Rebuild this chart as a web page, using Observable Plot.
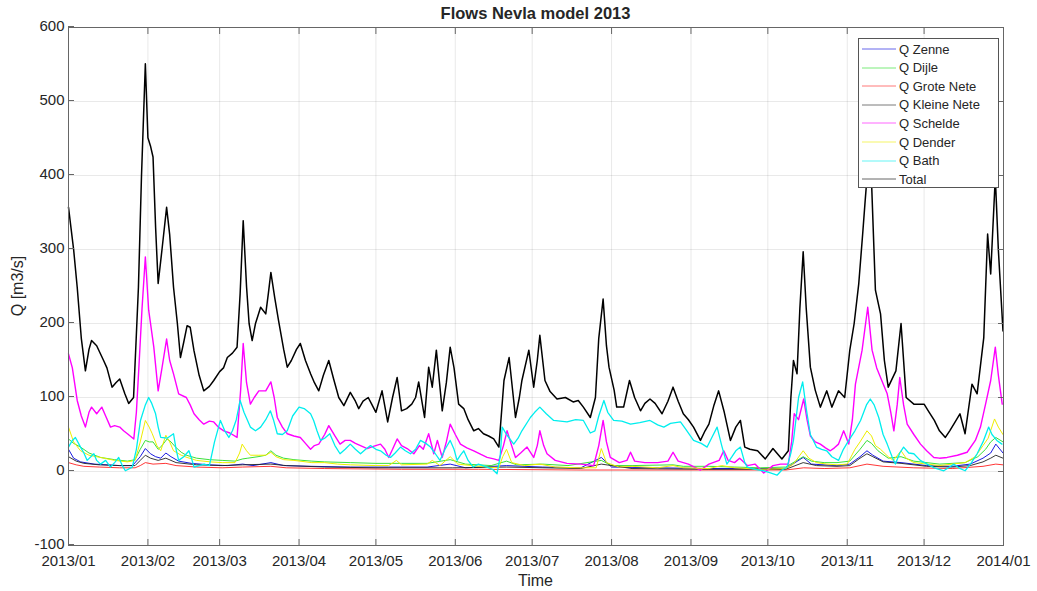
<!DOCTYPE html>
<html>
<head>
<meta charset="utf-8">
<script src="https://cdn.jsdelivr.net/npm/d3@7"></script>
<script src="https://cdn.jsdelivr.net/npm/@observablehq/plot@0.6"></script>
<style>
  html, body { margin: 0; padding: 0; background: #fff; }
  #wrap { position: relative; width: 1037px; height: 591px; font-family: "Liberation Sans", Arial, sans-serif; color: #262626; }
  #title { position: absolute; left: 68px; width: 935px; top: 4px; text-align: center; font-weight: bold; font-size: 16.5px; }
  #xlabel { position: absolute; left: 68px; width: 935px; top: 572px; text-align: center; font-size: 16px; }
  #ylabel { position: absolute; left: 18px; top: 286px; transform: translate(-50%, -50%) rotate(-90deg); font-size: 16px; white-space: nowrap; }
  #legend { position: absolute; left: 858px; top: 38px; width: 141px; height: 150px; background: #fff; border: 1px solid #555; box-sizing: border-box; font-size: 13px; }
  .li { position: absolute; left: 3px; height: 18px; display: flex; align-items: center; }
  .li svg { margin-right: 3px; }
</style>
</head>
<body>
<div id="wrap">
  <div id="chart"></div>
  <div id="title">Flows Nevla model 2013</div>
  <div id="xlabel">Time</div>
  <div id="ylabel">Q [m3/s]</div>
  <div id="legend"></div>
</div>
<script>
// ---- Tick labels ----
const xTickLabels = ["2013/01","2013/02","2013/03","2013/04","2013/05","2013/06","2013/07","2013/08","2013/09","2013/10","2013/11","2013/12","2014/01"];
const yTicks = [-100, 0, 100, 200, 300, 400, 500, 600];

// ---- Series names and colours ----
const seriesNames = ["Q Zenne","Q Dijle","Q Grote Nete","Q Kleine Nete","Q Schelde","Q Dender","Q Bath","Total"];
const seriesColors = ["#0000dd","#22dd22","#ff2020","#222222","#ff00ff","#eeee00","#00eeee","#000000"];
const seriesWidths = [0.9, 0.9, 0.9, 0.9, 1.4, 1.0, 1.3, 1.5];

// ---- Data: [day of 2013 (0 = Jan 1), Q in m3/s] ----
const qZenne = [[0,30],[2,18],[4.7,13],[10,10],[15,9],[20,8],[25,8],[28,20],[30,31],[32,24],[34,20],[36,18],[38,25],[40,20],[43,14],[48,11],[55,9],[62,8],[68,10],[72,8],[79,12],[84,8],[95,7],[110,6],[125,6],[140,6],[149,10],[155,5],[171,8],[185,6],[200,5],[208,19],[212,6],[230,5],[250,4],[270,4],[280,4],[286.8,19],[290,10],[300,8],[305,10],[309,20],[311.7,28],[314,22],[318,14],[325,12],[335,8],[345,7],[352,10],[357,18],[360,25],[362,37],[364.8,25]];

const qDijle = [[0,44],[2,38],[4.7,33],[8,25],[12.5,19],[18,16],[23,14],[26,16],[28,30],[30,42],[31.5,40],[33,40],[35,30],[36.5,35],[38.5,44],[40,40],[41.8,33],[44,26],[46,22],[50,18],[55,16],[60,15],[65,14],[68,17],[70,18],[74,20],[77,22],[79,28],[81,22],[84,18],[88,16],[95,14],[100,13],[110,12],[120,11],[130,11],[140,11],[149,16],[155,10],[165,8],[171,14],[175,9],[185,10],[195,8],[208,15],[212,8],[220,8],[236,9],[240,7],[250,7],[260,6],[270,5],[280,6],[286.8,20],[290,14],[295,12],[300,12],[305,14],[309,30],[311.7,42],[313.5,38],[316,28],[320,18],[325,20],[330,14],[340,10],[350,12],[355,20],[358,30],[360,40],[362,46],[364.8,40]];

const qGroteNete = [[0,12],[3,9],[6,7],[12,6],[20,5],[26,5],[28,8],[30,12],[33,10],[38,11],[42,8],[50,6],[60,5],[68,6],[79,7],[85,5],[100,4],[130,3],[160,3],[200,2],[250,2],[280,2],[287,5],[295,4],[305,5],[311.7,10],[318,7],[330,5],[345,4],[357,7],[362,10],[364.8,9]];

const qKleineNete = [[0,20],[3,14],[6,11],[12,9],[20,8],[26,8],[28,15],[30,22],[32,18],[35,15],[38,18],[42,12],[50,9],[60,8],[68,9],[79,10],[85,8],[100,6],[120,5],[150,5],[171,6],[200,4],[208,10],[220,4],[250,3],[280,3],[286.8,12],[292,8],[300,7],[305,8],[309,18],[311.7,24],[314,20],[318,13],[325,11],[335,7],[345,6],[352,8],[357,13],[360,18],[362,22],[364.8,18]];

const qSchelde = [[0,159],[1.5,140],[3.4,96],[5,75],[6.6,60],[8,80],[9,87],[11,78],[13,87],[14.5,75],[16.4,60],[18,62],[20,60],[21.5,55],[23,51],[25.5,44],[26.5,80],[27.4,136],[28.7,220],[30,290],[31.3,218],[33.3,168],[35,109],[36.5,140],[38.3,179],[39.5,150],[41,132],[43,105],[46,100],[47.5,90],[49,78],[51,70],[52.8,64],[55,68],[56.7,67],[58.5,60],[60.6,55],[63,52],[65.8,46],[67.2,110],[68.2,173],[69.5,120],[71,91],[72.5,100],[74.3,109],[77,109],[79,121],[80.3,100],[81.5,73],[83.5,60],[85.4,51],[88,48],[90.5,46],[92.5,38],[94.5,30],[96,35],[97.7,37],[100,50],[101.6,62],[104,48],[106,37],[108,42],[110,42],[112,38],[114,35],[116.6,31],[119,34],[121.8,37],[123.5,30],[125,19],[126.5,30],[128.3,44],[130,35],[132.2,31],[134.8,24],[137,35],[138.5,30],[140.6,51],[142.6,24],[144,42],[145.9,19],[147.5,40],[149,64],[151,50],[153,37],[155.5,32],[158.2,28],[161,23],[163.4,19],[166,17],[168,15],[169.8,35],[171.2,55],[173,35],[174.5,19],[176.5,25],[179,33],[181.6,19],[183,35],[184,55],[185.5,35],[186.8,24],[190,15],[194.6,11],[200,10],[205,8],[207,35],[208.7,69],[210,40],[211.5,19],[215,12],[218,15],[219.4,26],[221,14],[225,12],[230,12],[234,14],[236,26],[238,14],[242,10],[246.7,2],[250,10],[254,15],[255.8,28],[257.5,15],[260,12],[262,18],[265,8],[268,10],[271.4,-2],[275,8],[278,10],[281,10],[282.3,40],[283.3,78],[285,70],[287,98],[288.3,70],[289.6,48],[291.5,40],[293.5,37],[295.5,32],[297.4,28],[299,32],[300.6,37],[302.6,55],[304.6,37],[306,70],[307.2,118],[309.8,164],[312,222],[313.7,164],[315.5,140],[317,127],[319.6,105],[321,80],[322.2,55],[323.5,90],[324.5,127],[326,90],[327.4,64],[330,50],[332.6,37],[335,28],[337.8,19],[340,18],[343,19],[347,22],[350.8,26],[354,42],[356,60],[358,91],[360,123],[361.8,168],[363,130],[364.5,91]];

const qDender = [[0,60],[2,40],[4.7,28],[8,22],[12.5,19],[18,15],[23,13],[26,15],[28,40],[30,69],[31.5,60],[32.7,51],[34.5,35],[36,28],[38,49],[39.5,40],[41,28],[44,22],[46.3,19],[50,15],[55.4,13],[60,12],[65,12],[66.8,25],[67.8,37],[69.5,28],[71,22],[74,22],[77,22],[79,26],[81,20],[84,16],[88,15],[95,12],[100,12],[105,10],[110,9],[120,8],[125,8],[128,15],[130,9],[140,10],[142,15],[145,8],[149,20],[152,10],[160,7],[168,5],[169.5,20],[171,30],[173,12],[178,8],[184,10],[190,6],[200,5],[206,5],[208,31],[210,12],[215,6],[220,7],[230,5],[236,8],[240,5],[250,4],[255,8],[260,5],[270,3],[280,4],[283,10],[286.8,28],[289,18],[292,12],[296,10],[300,9],[304,10],[307,30],[309,40],[311.7,55],[313.5,48],[315,35],[317,30],[320,20],[322,15],[325,28],[327,18],[330,12],[335,10],[340,8],[345,10],[350,12],[354,20],[357,35],[359,45],[361.5,71],[363,60],[364.8,50]];

const qBath = [[0,33],[1.5,42],[2.7,46],[4.7,33],[6,25],[7.3,15],[9.9,24],[11,15],[12.5,10],[14.5,15],[16.4,6],[18,12],[19.6,19],[21,8],[22.2,1],[24.9,6],[26.5,30],[28.1,69],[30,90],[31.3,100],[32.5,92],[34,78],[35,60],[36,46],[38.5,45],[41,51],[42,30],[43,15],[45,20],[47,28],[48,18],[49,6],[51,8],[53,10],[55,8],[57,40],[59.3,69],[61,55],[62.6,46],[64,55],[65.5,70],[67,96],[68.5,80],[71,60],[73,55],[75,60],[77,70],[78.8,82],[80,70],[81.5,51],[83.5,50],[85.4,55],[87.5,75],[90,87],[92,85],[94.5,78],[95.7,69],[97,55],[98.4,42],[100,45],[102,51],[104,35],[106,24],[108,30],[110,37],[112,30],[114,24],[116,30],[117.9,35],[120,30],[121.8,28],[124,22],[125.7,19],[127.5,25],[129.6,33],[131.5,28],[133.5,24],[135.5,30],[137.4,42],[139.5,38],[141.3,33],[143,25],[145,15],[147,30],[149,42],[150.5,30],[151.7,15],[153,22],[154.3,28],[156,15],[158,6],[160,10],[163.4,6],[165.5,3],[167.3,-3],[168.5,20],[169.3,60],[171,50],[173.8,37],[175.5,45],[177,55],[180.3,73],[182,80],[184,87],[186.5,78],[189.4,69],[192,68],[194.6,67],[198,70],[201,69],[203.7,52],[205.5,55],[207,75],[209,96],[210.5,80],[212.8,69],[216,68],[219.4,64],[223,66],[227,69],[230,63],[232.4,60],[235,65],[238.9,67],[241,57],[244,42],[247,38],[249.3,33],[251,45],[253.2,60],[255,35],[257,10],[259,20],[260.5,28],[262.3,33],[264,12],[265,6],[268,3],[271.4,1],[274,-2],[276.6,-5],[278.5,2],[280.5,6],[282,25],[283,42],[285,100],[286.6,121],[288,85],[289.6,50],[292,33],[294,30],[296,28],[298,20],[300.6,15],[302.5,30],[304.6,42],[307,55],[309.2,69],[311.5,90],[313,98],[314.5,90],[316.3,73],[318,50],[319.6,37],[321.5,20],[322.8,10],[324.5,25],[326,33],[328,25],[330,24],[332.5,15],[335.2,10],[338,5],[341.7,1],[343.5,5],[345.6,10],[347.5,5],[350,1],[352.5,12],[354.7,24],[357,40],[359.2,60],[360.5,50],[362.4,42],[364.4,37]];

const qTotal = [[0,357],[2,300],[3.4,249],[5,180],[6.6,136],[8,165],[9,177],[11,170],[13.7,150],[15,140],[17,114],[18.5,120],[20,125],[22,105],[23.5,92],[25.4,100],[26.3,170],[27.3,249],[28.5,400],[30,551],[31,451],[32,440],[33,425],[34,330],[35,254],[36.5,300],[38.3,357],[39.5,320],[41,249],[42.5,200],[43.7,154],[45,175],[46.3,197],[47.5,195],[49,163],[51,130],[52.8,109],[55,115],[56.7,123],[59,135],[60.5,140],[62,154],[64,160],[65.8,168],[67,240],[68.2,339],[69.5,250],[70.5,200],[71.7,177],[73,200],[75,222],[77,213],[78,240],[79,269],[80.5,235],[82,204],[84,165],[85.4,141],[87,150],[89,165],[90.5,173],[92.5,150],[94.5,132],[96,120],[97.7,109],[99.5,130],[101.6,150],[103.5,125],[105.5,100],[107.5,89],[110,107],[112,95],[113.3,85],[115,95],[117,100],[118.5,90],[120,80],[122.4,109],[124.6,67],[126.5,100],[128.3,127],[130,82],[132,85],[134,91],[135.5,100],[136.7,121],[139,73],[140.6,141],[142,114],[143.6,164],[145.9,82],[147.5,120],[149,168],[150.5,140],[152.3,91],[154.3,85],[156,70],[158.2,55],[160,58],[162,51],[164,48],[166,44],[168,33],[170,123],[172,154],[174.5,73],[176,100],[177,123],[179.7,164],[181.6,114],[183,150],[184,184],[186,123],[188,108],[190.7,98],[194,100],[197,94],[199,96],[201,87],[203.7,73],[205.7,100],[207,180],[208.7,233],[210,170],[211,141],[213,110],[214,87],[216.7,87],[219,123],[221,100],[223.3,82],[225,92],[227,98],[229,92],[231.7,78],[234,95],[236,114],[238,95],[240,78],[242,70],[244,60],[246.7,42],[248.5,55],[250,64],[252,90],[253.8,109],[256,80],[258.4,42],[260.5,60],[262.3,69],[264,33],[266,30],[269,28],[272,17],[275,31],[278.5,17],[281,28],[282,100],[283,150],[284.4,132],[285.5,220],[286.8,297],[288,220],[289.6,141],[291.5,110],[293.5,87],[296,109],[298,87],[300.6,109],[303,100],[305,164],[306.7,200],[308.5,254],[310,320],[311,366],[312,410],[313.5,390],[315,245],[317,213],[318.5,150],[320,114],[323,136],[325,200],[327,100],[330,91],[334,91],[336,80],[338,69],[340,55],[342.3,46],[344,55],[345.6,64],[348,78],[350,51],[352.7,118],[354.7,105],[357.3,181],[358.8,321],[360,267],[361.8,398],[363,299],[364.8,190]];

const seriesData = [qZenne, qDijle, qGroteNete, qKleineNete, qSchelde, qDender, qBath, qTotal];

// ---- Build ----
const t0 = Date.UTC(2013, 0, 1);
const toDate = d => new Date(t0 + d * 86400000);
const parseTick = s => { const [y, m] = s.split("/").map(Number); return new Date(Date.UTC(y, m - 1, 1)); };
const xTicks = xTickLabels.map(parseTick);

const rows = [];
seriesData.forEach((arr, i) => arr.forEach(([d, v]) => rows.push({series: seriesNames[i], date: toDate(d), q: v})));

const axisColor = "#262626";
const marks = [
  Plot.gridX(xTicks, {stroke: axisColor, strokeOpacity: 0.1}),
  Plot.gridY(yTicks, {stroke: axisColor, strokeOpacity: 0.1}),
];
seriesNames.forEach((name, i) => {
  marks.push(Plot.line(rows.filter(r => r.series === name), {
    x: "date", y: "q", stroke: seriesColors[i],
    strokeWidth: seriesWidths[i], curve: "linear"
  }));
});
marks.push(
  Plot.frame({stroke: "#666", strokeWidth: 1}),
  Plot.axisX(xTicks, {anchor: "bottom", tickSize: -6, tickPadding: 16, tickFormat: d3.utcFormat("%Y/%m"), label: null, stroke: "#666", fill: axisColor}),
  Plot.axisX(xTicks, {anchor: "top", tickSize: -6, tickFormat: () => "", label: null, stroke: "#666"}),
  Plot.axisY(yTicks, {anchor: "left", tickSize: -6, tickPadding: 10, dy: -1, tickFormat: d => String(d), label: null, stroke: "#666", fill: axisColor}),
  Plot.axisY(yTicks, {anchor: "right", tickSize: -6, tickFormat: () => "", label: null, stroke: "#666"})
);

const chart = Plot.plot({
  width: 1037, height: 591,
  marginLeft: 68, marginRight: 34, marginTop: 27, marginBottom: 46,
  style: {fontFamily: "'Liberation Sans', Arial, sans-serif", fontSize: "15px", color: axisColor, background: "#fff", overflow: "visible"},
  x: {type: "utc", domain: [xTicks[0], xTicks[xTicks.length - 1]]},
  y: {domain: [-100, 600]},
  marks
});
document.getElementById("chart").appendChild(chart);

// ---- Legend ----
const legend = document.getElementById("legend");
seriesNames.forEach((name, i) => {
  const div = document.createElement("div");
  div.className = "li";
  div.style.top = (1 + i * 18.6) + "px";
  div.innerHTML = `<svg width="34" height="4"><line x1="0" x2="34" y1="2" y2="2" stroke="${seriesColors[i]}" stroke-width="1" stroke-opacity="0.6"/></svg><span>${name}</span>`;
  legend.appendChild(div);
});
</script>
</body>
</html>
